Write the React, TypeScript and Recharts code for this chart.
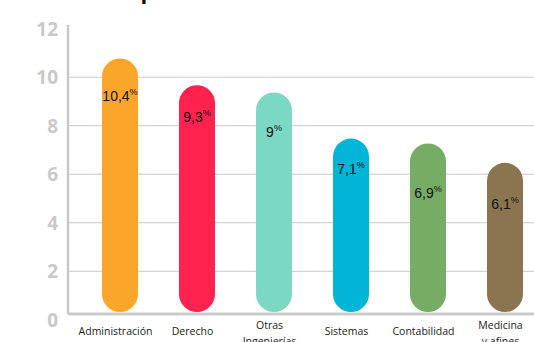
import React from 'react';
import { BarChart, Bar, XAxis, YAxis, CartesianGrid } from 'recharts';

const categories = ['Administración', 'Derecho', 'Otras Ingenierías', 'Sistemas', 'Contabilidad', 'Medicina y afines'];
const categoryLines = [['Administración'], ['Derecho'], ['Otras', 'Ingenierías'], ['Sistemas'], ['Contabilidad'], ['Medicina', 'y afines']];
const values = [10.4, 9.3, 9, 7.1, 6.9, 6.1];
const valueLabels = ['10,4', '9,3', '9', '7,1', '6,9', '6,1'];
const yTicks = [0, 2, 4, 6, 8, 10, 12];
const gridValues = [2, 4, 6, 8, 10];

const colors = ['#FBA52A', '#FF224E', '#7BD8C2', '#00B5D5', '#76AC63', '#8B7550'];
const labelOffsets = [38, 32, 40, 30, 50, 41];

const data = categories.map((name, i) => ({ name, value: values[i], idx: i }));

const GRAY = '#c9c9c9';

const BarShape = (props: any) => {
  const { x, y, width, height, index } = props;
  const top = y - 9;
  const bottom = y + height - 2;
  const h = bottom - top;
  const cx = x + width / 2;
  return (
    <g>
      <rect x={x} y={top} width={width} height={h} rx={width / 2} ry={width / 2} fill={colors[index]} />
      <text
        x={cx}
        y={top + labelOffsets[index] + 5}
        textAnchor="middle"
        fontFamily="'Liberation Sans', Arial, sans-serif"
        fill="#111"
      >
        <tspan fontSize={14}>{valueLabels[index]}</tspan>
        <tspan fontSize={9} dy={-6}>%</tspan>
      </text>
    </g>
  );
};

const XTick = (props: any) => {
  const { x, y, index } = props;
  const lines = categoryLines[index] || [];
  const single = lines.length === 1;
  return (
    <g>
      {lines.map((ln, i) => (
        <text
          key={i}
          x={x - 4}
          y={single ? y + 13 : y + 7 + i * 16}
          textAnchor="middle"
          fontFamily="'Open Sans', sans-serif"
          fontSize={10.5}
          fill="#222"
        >
          {ln}
        </text>
      ))}
    </g>
  );
};

const YTick = (props: any) => {
  const { y, payload } = props;
  return (
    <text
      x={58}
      y={y + 7}
      textAnchor="end"
      fontFamily="'Open Sans', sans-serif"
      fontWeight={700}
      fontSize={19}
      fill={GRAY}
    >
      {payload.value}
    </text>
  );
};

export default function App() {
  return (
    <div style={{ position: 'absolute', left: 0, top: 0, width: 534, height: 342, overflow: 'hidden', background: '#fff' }}>
      <svg width={534} height={20} style={{ position: 'absolute', left: 0, top: 0 }}>
        <text x={141} y={-1} textAnchor="end" fontFamily="'Open Sans', sans-serif" fontWeight={700} fontSize={22} fill="#111">
          Las 6{' '}
        </text>
        <text x={140.5} y={-1} textAnchor="start" fontFamily="'Open Sans', sans-serif" fontWeight={700} fontSize={22} fill="#111">
          profesiones más demandadas
        </text>
      </svg>
      <div style={{ position: 'absolute', left: 0, top: 0 }}>
        <BarChart width={560} height={342} data={data} margin={{ top: 25, right: 17, bottom: 0, left: 0 }} barSize={36}>
          <CartesianGrid vertical={false} horizontalValues={gridValues} stroke={GRAY} strokeWidth={1} />
          <XAxis
            dataKey="name"
            interval={0}
            tickLine={false}
            axisLine={{ stroke: GRAY, strokeWidth: 3 }}
            padding={{ left: 13, right: 0 }}
            height={28}
            tick={<XTick />}
          />
          <YAxis
            type="number"
            domain={[0.24, 12.15]}
            allowDataOverflow
            ticks={yTicks}
            interval={0}
            tickLine={false}
            axisLine={{ stroke: GRAY, strokeWidth: 2.5 }}
            width={68}
            tick={<YTick />}
          />
          <Bar dataKey="value" isAnimationActive={false} shape={<BarShape />} />
        </BarChart>
      </div>
    </div>
  );
}
